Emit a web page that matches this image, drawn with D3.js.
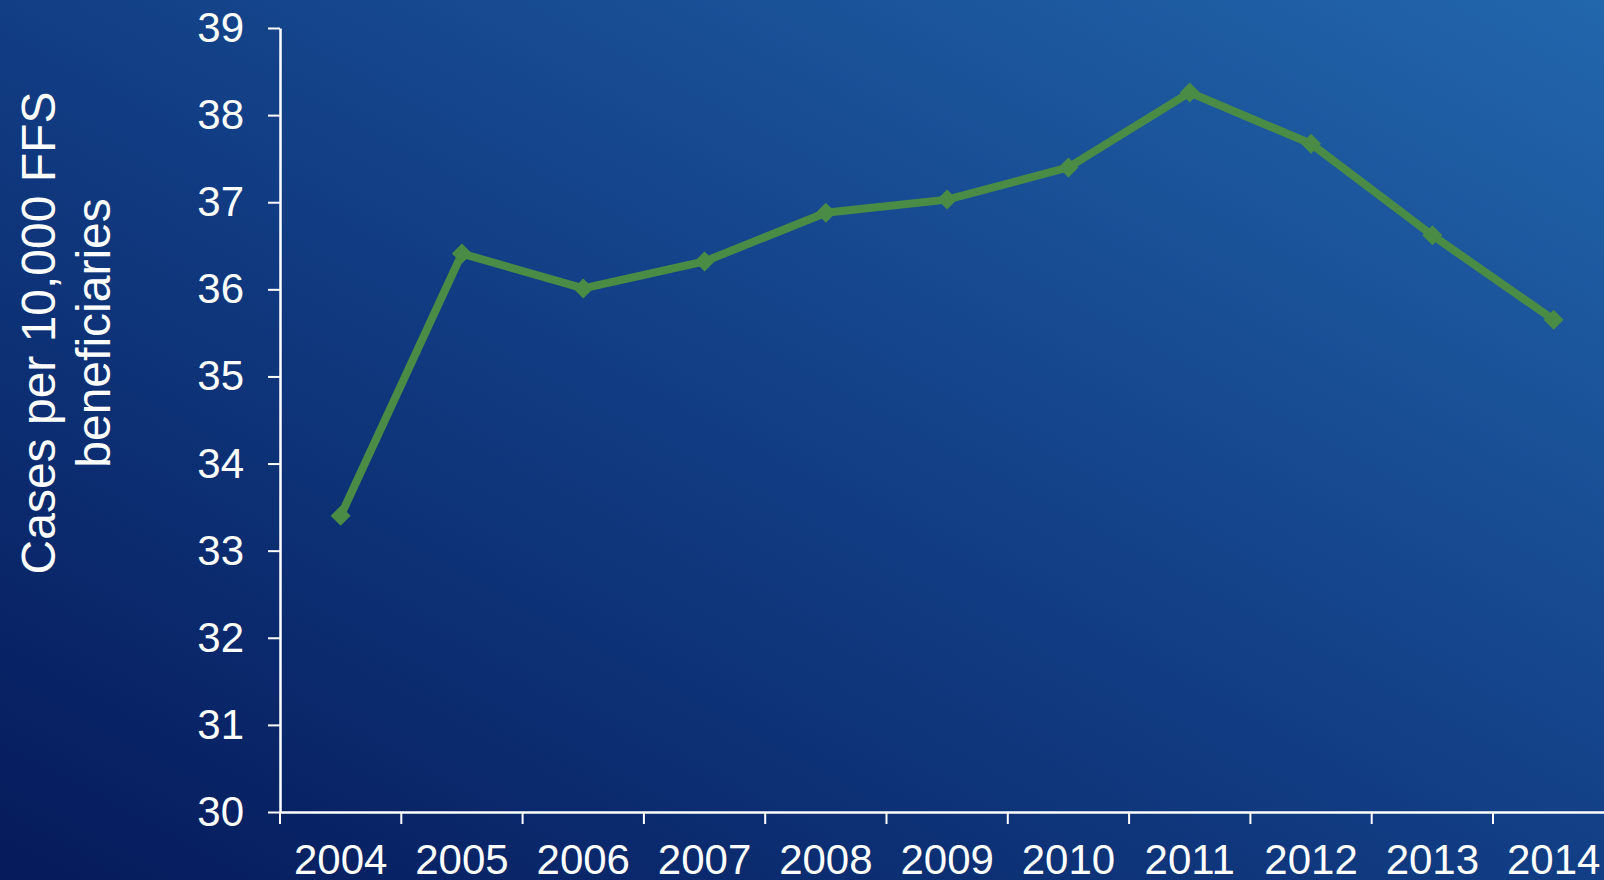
<!DOCTYPE html>
<html lang="en">
<head>
<meta charset="utf-8">
<title>Cases per 10,000 FFS beneficiaries</title>
<script src="https://d3js.org/d3.v7.min.js"></script>
<style>
  html, body { margin: 0; padding: 0; overflow: hidden; }
  svg { display: block; }
</style>
</head>
<body>
<script>
// DATA
var years = ["2004", "2005", "2006", "2007", "2008", "2009", "2010", "2011", "2012", "2013", "2014"];
var cases = [33.40, 36.41, 36.01, 36.32, 36.88, 37.03, 37.40, 38.26, 37.67, 36.62, 35.65];
var yTicks = [30, 31, 32, 33, 34, 35, 36, 37, 38, 39];
var yTitle = ["Cases per 10,000 FFS", "beneficiaries"];

// SIZE
var w = 1604, h = 880;
var plotLeft = 280, plotTop = 28, plotBottom = 812;
var bandW = 121.3;
var fontFam = "'Liberation Sans', Arial, sans-serif";

var svg = d3.select("body").append("svg")
  .attr("width", w)
  .attr("height", h);

// background gradient
var defs = svg.append("defs");
var grad = defs.append("linearGradient")
  .attr("id", "bg")
  .attr("x1", "0%").attr("y1", "100%")
  .attr("x2", "100%").attr("y2", "0%");
grad.append("stop").attr("offset", "0%").attr("stop-color", "#051a5a");
grad.append("stop").attr("offset", "50%").attr("stop-color", "#123e85");
grad.append("stop").attr("offset", "100%").attr("stop-color", "#2266ac");

svg.append("rect")
  .attr("width", w).attr("height", h)
  .attr("fill", "url(#bg)");

// SCALES
var x = d3.scaleBand()
  .domain(years)
  .range([plotLeft, plotLeft + bandW * years.length]);

var y = d3.scaleLinear()
  .domain([30, 39])
  .range([plotBottom, plotTop]);

// Y AXIS
var yAxis = svg.append("g")
  .attr("transform", "translate(" + plotLeft + ",0)")
  .call(d3.axisLeft(y).tickValues(yTicks).tickSize(12).tickSizeOuter(0).tickPadding(24));

// X AXIS
var xAxis = svg.append("g")
  .attr("transform", "translate(0," + plotBottom + ")")
  .call(d3.axisBottom(x).tickSize(0).tickPadding(32));

// x ticks at band edges
svg.append("g").selectAll("line")
  .data(years)
  .enter()
  .append("line")
  .attr("x1", function(d) { return x(d); })
  .attr("x2", function(d) { return x(d); })
  .attr("y1", plotBottom)
  .attr("y2", plotBottom + 12)
  .attr("stroke", "#fff")
  .attr("stroke-width", 2);

[yAxis, xAxis].forEach(function(g) {
  g.selectAll(".domain").attr("stroke", "#fff").attr("stroke-width", 2.5);
  g.selectAll(".tick line").attr("stroke", "#fff").attr("stroke-width", 2);
  g.selectAll("text")
    .attr("fill", "#fff")
    .attr("font-family", fontFam)
    .attr("font-size", "42px");
});
xAxis.selectAll(".tick text").attr("dy", "0.71em");

// Y TITLE
var yt = svg.append("text")
  .attr("transform", "translate(0,333) rotate(-90)")
  .attr("text-anchor", "middle")
  .attr("fill", "#fff")
  .attr("font-family", fontFam)
  .attr("font-size", "48px");
yt.selectAll("tspan")
  .data(yTitle)
  .enter()
  .append("tspan")
  .attr("x", 0)
  .attr("y", function(d, i) { return 55 + i * 55; })
  .text(function(d) { return d; });

// LINE
var line = d3.line()
  .x(function(d, i) { return x(years[i]) + x.bandwidth() / 2; })
  .y(function(d) { return y(d); });

svg.append("path")
  .datum(cases)
  .attr("d", line)
  .attr("fill", "none")
  .attr("stroke", "#4a8c45")
  .attr("stroke-width", 8)
  .attr("stroke-linejoin", "miter");

// MARKERS
svg.append("g").selectAll("path")
  .data(cases)
  .enter()
  .append("path")
  .attr("d", d3.symbol().type(d3.symbolSquare).size(200))
  .attr("transform", function(d, i) {
    return "translate(" + (x(years[i]) + x.bandwidth() / 2) + "," + y(d) + ") rotate(45)";
  })
  .attr("fill", "#4a8c45");
</script>
</body>
</html>
